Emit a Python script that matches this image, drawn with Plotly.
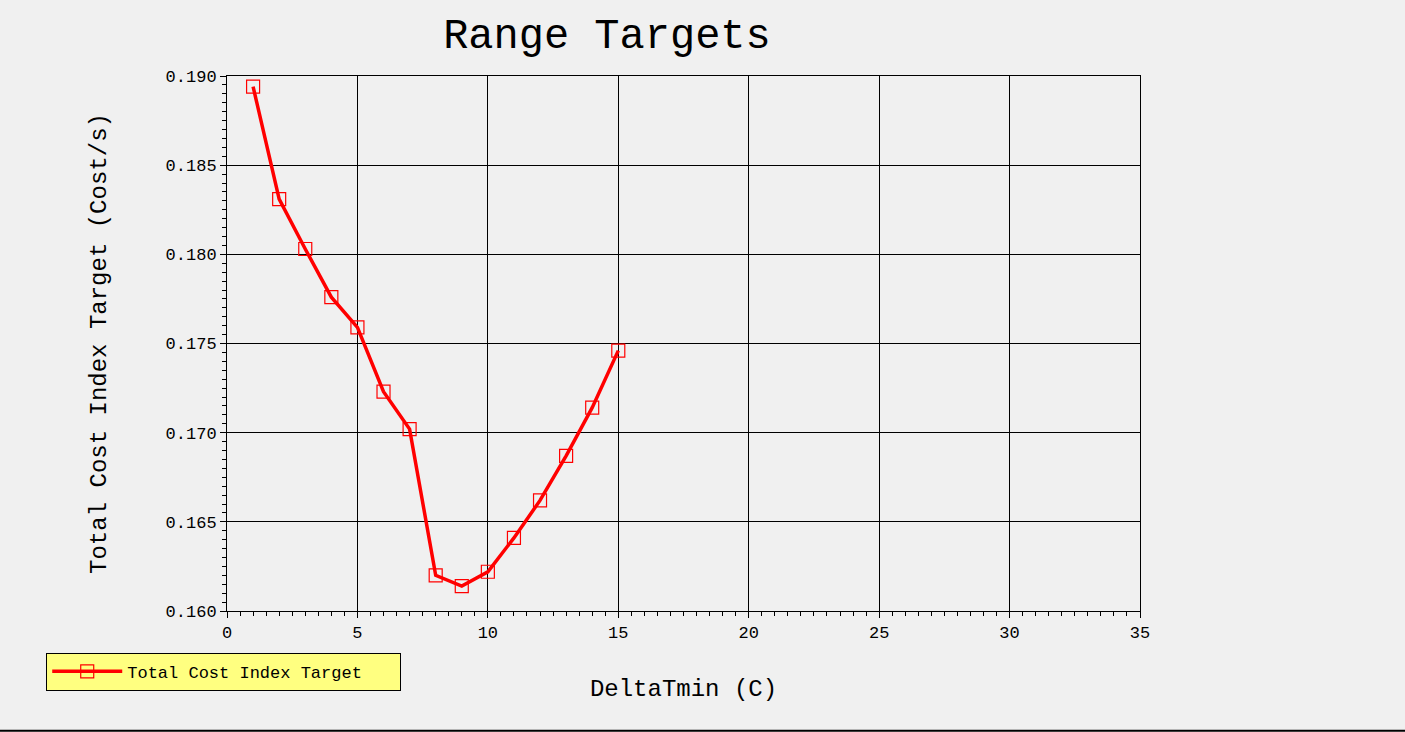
import plotly.graph_objs as go

# data
delta_t = [1, 2, 3, 4, 5, 6, 7, 8, 9, 10, 11, 12, 13, 14, 15]
cost_index = [0.1894, 0.1831, 0.1803, 0.1776, 0.1759, 0.1723, 0.1702, 0.1620,
              0.1614, 0.1622, 0.1641, 0.1662, 0.1687, 0.1714, 0.1746]

FONT = "Liberation Mono"

trace0 = go.Scatter(
    x=delta_t,
    y=cost_index,
    mode='lines+markers',
    name='Total Cost Index Target',
    line=dict(color='#ff0000', width=3.5),
    marker=dict(symbol='square-open', size=13, color='#ff0000', line=dict(width=1.2)),
)

fig = go.Figure(data=[trace0])

axis_common = dict(
    showline=True, linecolor='black', linewidth=1, mirror=True,
    showgrid=True, gridcolor='black', gridwidth=1,
    zeroline=False,
    ticks='outside', ticklen=6, tickcolor='black',
    tickfont=dict(family=FONT, size=17, color='black'),
)

fig.update_layout(
    width=1405, height=732,
    paper_bgcolor='#f0f0f0', plot_bgcolor='#f0f0f0',
    margin=dict(l=227, r=265, t=76, b=121),
    title=dict(text='Range Targets', x=0.432, xanchor='center', y=0.955, yanchor='middle',
               font=dict(family=FONT, size=42, color='black')),
    xaxis=dict(axis_common, range=[0, 35], dtick=5,
               minor=dict(dtick=0.5, ticks='outside', ticklen=4, tickcolor='black', showgrid=False),
               title=dict(text='DeltaTmin (C)', standoff=36,
                          font=dict(family=FONT, size=24, color='black'))),
    yaxis=dict(axis_common, range=[0.160, 0.190], dtick=0.005, tickformat='.3f',
               minor=dict(dtick=0.0005, ticks='outside', ticklen=4, tickcolor='black', showgrid=False),
               title=dict(text='Total Cost Index Target (Cost/s)', standoff=52,
                          font=dict(family=FONT, size=24, color='black'))),
    showlegend=True,
    legend=dict(x=-0.198, y=-0.078, xanchor='left', yanchor='top', orientation='h',
                bgcolor='#ffff80', bordercolor='black', borderwidth=1,
                font=dict(family=FONT, size=17, color='black'),
                itemwidth=70, entrywidth=268, entrywidthmode='pixels'),
    shapes=[dict(type='line', xref='paper', yref='paper', x0=-0.3, x1=1.3,
                 y0=-0.224, y1=-0.224, line=dict(color='black', width=2))],
)

fig.write_html("out.html", config={'displayModeBar': False},
               post_script="document.body.style.margin='0';document.body.style.background='#f0f0f0';")
